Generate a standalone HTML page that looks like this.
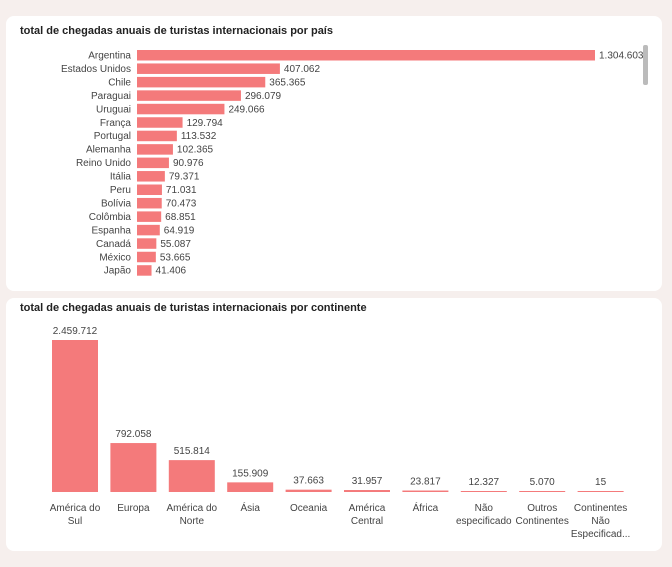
<!DOCTYPE html>
<html><head><meta charset="utf-8"><style>
body{margin:0;width:672px;height:567px;background:#f6efed;font-family:"Liberation Sans",sans-serif;overflow:hidden;position:relative}
.panel{position:absolute;background:#fff;border-radius:8px}
.title{position:absolute;left:14px;font-weight:bold;font-size:11px;color:#222}
svg text{font-family:"Liberation Sans",sans-serif;font-size:10px;fill:#444}
</style></head><body>
<div class="panel" style="left:6px;top:16px;width:656px;height:275px">
<div class="title" style="top:9px">total de chegadas anuais de turistas internacionais por país</div>
<div style="position:absolute;left:637px;top:29px;width:5px;height:40px;background:#bbb;border-radius:2px"></div>
</div>
<div class="panel" style="left:6px;top:298px;width:656px;height:253px">
<div class="title" style="top:4px">total de chegadas anuais de turistas internacionais por continente</div>
</div>
<svg id="s" width="672" height="567" style="position:absolute;left:0;top:0"></svg>
<script>
const countries=["Argentina","Estados Unidos","Chile","Paraguai","Uruguai","França","Portugal","Alemanha","Reino Unido","Itália","Peru","Bolívia","Colômbia","Espanha","Canadá","México","Japão"];
const countryValues=[1304603,407062,365365,296079,249066,129794,113532,102365,90976,79371,71031,70473,68851,64919,55087,53665,41406];
const continents=[["América do","Sul"],["Europa"],["América do","Norte"],["Ásia"],["Oceania"],["América","Central"],["África"],["Não","especificado"],["Outros","Continentes"],["Continentes","Não","Especificad..."]];
const continentValues=[2459712,792058,515814,155909,37663,31957,23817,12327,5070,15];
const s=document.getElementById('s');const NS="http://www.w3.org/2000/svg";
const fmt=v=>v.toString().replace(/\B(?=(\d{3})+(?!\d))/g,".");
function mk(t,a,txt){const e=document.createElementNS(NS,t);for(const k in a)e.setAttribute(k,a[k]);if(txt!=null)e.textContent=txt;s.appendChild(e);return e;}
const x0=137,xs=v=>v*458/1304603,ys=i=>55+i*13.45;
countries.forEach((c,i)=>{const y=ys(i);const w=xs(countryValues[i]);
const l=mk('text',{x:131,y:y+3.5,'text-anchor':'end'},c);


const r=mk('rect',{x:x0,y:y-5,width:w,height:10.5,fill:'#f47a7b'});


const v=mk('text',{x:x0+w+4,y:y+3.5},fmt(countryValues[i]));

});
const base=492,hs=v=>v*152/2459712,cx=i=>75+i*58.4;
continents.forEach((c,i)=>{const h=Math.max(hs(continentValues[i]),1);const x=cx(i);
const r=mk('rect',{x:x-23,y:base-h,width:46,height:h,fill:'#f47a7b'});


const v=mk('text',{x:x,y:base-h-6,'text-anchor':'middle'},fmt(continentValues[i]));


c.forEach((ln,j)=>{const t=mk('text',{x:x,y:511+j*13,'text-anchor':'middle'},ln);

});});
</script>
</body></html>
